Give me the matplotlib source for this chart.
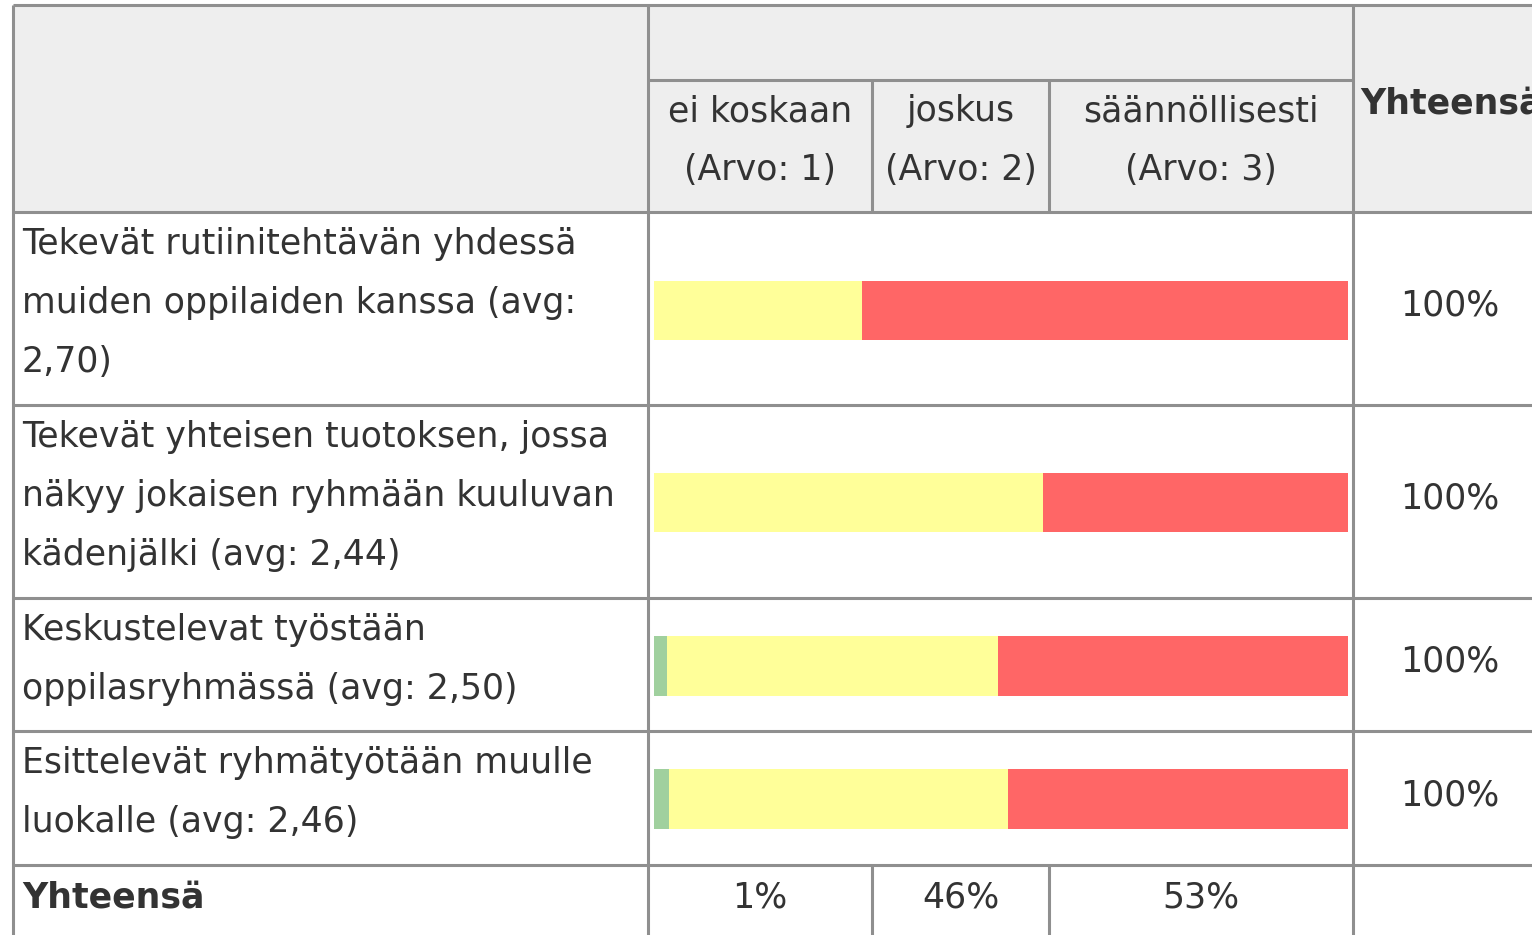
import matplotlib
matplotlib.use("Agg")
import matplotlib.pyplot as plt
from matplotlib.patches import Rectangle

plt.rcParams['font.family'] = ['DejaVu Sans']

# ---- data ----
categories = [
    "Tekevät rutiinitehtävän yhdessä\nmuiden oppilaiden kanssa (avg:\n2,70)",
    "Tekevät yhteisen tuotoksen, jossa\nnäkyy jokaisen ryhmään kuuluvan\nkädenjälki (avg: 2,44)",
    "Keskustelevat työstään\noppilasryhmässä (avg: 2,50)",
    "Esittelevät ryhmätyötään muulle\nluokalle (avg: 2,46)",
]
answer_labels = ["ei koskaan\n(Arvo: 1)", "joskus\n(Arvo: 2)", "säännöllisesti\n(Arvo: 3)"]
ei_koskaan = [0.0, 0.0, 1.9, 2.2]
joskus = [30.0, 56.0, 47.6, 48.8]
saannollisesti = [70.0, 44.0, 50.5, 49.0]
row_totals = ["100%", "100%", "100%", "100%"]
column_totals = ["1%", "46%", "53%"]
total_label = "Yhteensä"

# ---- style / layout ----
W, H = 1532, 935
LINE = "#8f8f8f"
HEAD = "#eeeeee"
TXT = "#333333"
COLS = ["#a0d09e", "#ffff99", "#ff6666"]
FS = 25
LW = 2.2

fig = plt.figure(figsize=(W / 100, H / 100), dpi=100)
bg = fig.add_axes([0, 0, 1, 1])
bg.set_xlim(0, W)
bg.set_ylim(H, 0)
bg.axis('off')

x_left, x_lab, x_s1, x_s2, x_bar_end, x_right = 13, 648, 872, 1049, 1353, W
y_top, y_sub, y_head = 5, 80, 212
row_edges = [212, 405, 598, 731, 865]
y_bottom = H

bg.add_patch(Rectangle((x_left, y_top), x_right - x_left, y_head - y_top,
                       facecolor=HEAD, edgecolor='none'))

def hline(y, x0, x1):
    bg.plot([x0, x1], [y, y], color=LINE, lw=LW, solid_capstyle='butt')

def vline(x, y0, y1):
    bg.plot([x, x], [y0, y1], color=LINE, lw=LW, solid_capstyle='butt')

hline(y_top, x_left, x_right)
hline(y_sub, x_lab, x_bar_end)
for y in row_edges:
    hline(y, x_left, x_right)
vline(x_left, y_top, y_bottom)
vline(x_lab, y_top, y_bottom)
vline(x_bar_end, y_top, y_bottom)
for x in (x_s1, x_s2):
    vline(x, y_sub, y_head)
    vline(x, row_edges[-1], y_bottom)

# header texts
sub_edges = [x_lab, x_s1, x_s2, x_bar_end]
for i, lab in enumerate(answer_labels):
    cx = (sub_edges[i] + sub_edges[i + 1]) / 2
    for j, line in enumerate(lab.split("\n")):
        bg.text(cx, 111 + j * 59, line, ha='center', va='center',
                fontsize=FS, color=TXT)
bg.text(1360, 103, total_label, ha='left', va='center', fontsize=FS,
        fontweight='bold', color=TXT)

# row labels
line_pitch = 59
for k, cat in enumerate(categories):
    top = row_edges[k]
    for j, line in enumerate(cat.split("\n")):
        bg.text(22, top + 32 + j * line_pitch, line, ha='left', va='center',
                fontsize=FS, color=TXT)

# row totals
for k, t in enumerate(row_totals):
    cy = (row_edges[k] + row_edges[k + 1]) / 2
    bg.text(1450, cy - 3, t, ha='center', va='center', fontsize=FS, color=TXT)

# total row
bg.text(22, 897, total_label, ha='left', va='center', fontsize=FS,
        fontweight='bold', color=TXT)
for i, t in enumerate(column_totals):
    cx = (sub_edges[i] + sub_edges[i + 1]) / 2
    bg.text(cx, 897, t, ha='center', va='center', fontsize=FS, color=TXT)

# bars
bx0, bx1 = 654, 1348
ax = fig.add_axes([bx0 / W, 1 - row_edges[-1] / H, (bx1 - bx0) / W,
                   (row_edges[-1] - row_edges[0]) / H])
ax.set_xlim(0, 100)
ax.set_ylim(row_edges[-1], row_edges[0])
ax.axis('off')
bar_y = [310.5, 502.5, 666, 799]
left = [0.0] * len(categories)
for series, col in zip([ei_koskaan, joskus, saannollisesti], COLS):
    ax.barh(bar_y, series, left=left, height=59.5, color=col, linewidth=0)
    left = [a + b for a, b in zip(left, series)]

fig.savefig("out.png", dpi=100)
